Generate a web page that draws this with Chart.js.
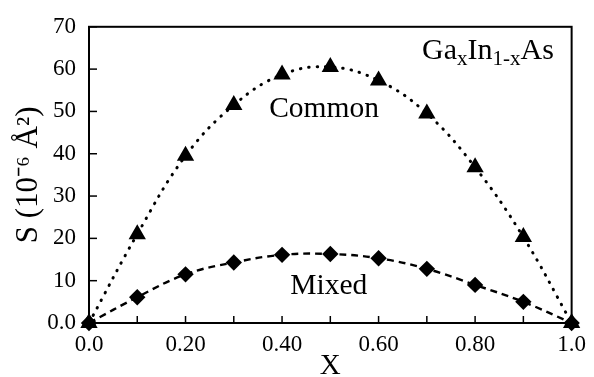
<!DOCTYPE html>
<html>
<head>
<meta charset="utf-8">
<script src="https://cdn.jsdelivr.net/npm/chart.js@4"></script>
<style>
  html, body { margin: 0; padding: 0; background: #fff; }
  #wrap { width: 594px; height: 377px; }
</style>
</head>
<body>
<div id="wrap"><canvas id="chart" width="594" height="377"></canvas></div>
<script>
// composition x
const xs = [0, 0.1, 0.2, 0.3, 0.4, 0.5, 0.6, 0.7, 0.8, 0.9, 1.0];
// S values (10^-6 A^2)
const common = [0, 21.0, 39.5, 51.5, 58.7, 60.5, 57.3, 49.5, 36.8, 20.3, 0];
const mixed = [0, 6.1, 11.5, 14.3, 16.1, 16.3, 15.3, 12.8, 9.0, 5.0, 0];

const xTickLabels = ['0.0', '', '0.20', '', '0.40', '', '0.60', '', '0.80', '', '1.0'];
const yTickLabels = ['0.0', '10', '20', '30', '40', '50', '60', '70'];

const serif = "'Liberation Serif', 'Times New Roman', serif";

function pts(ys) {
  return xs.map((x, i) => ({ x: x, y: ys[i] }));
}

// frame, inward tick marks and the text notes
const decor = {
  id: 'decor',
  afterDatasetsDraw(chart) {
    const ctx = chart.ctx;
    const a = chart.chartArea;
    const sx = chart.scales.x, sy = chart.scales.y;
    ctx.save();
    ctx.strokeStyle = '#000';
    ctx.lineWidth = 2;
    ctx.strokeRect(a.left, a.top, a.right - a.left, a.bottom - a.top);
    ctx.lineWidth = 1.5;
    sx.ticks.forEach(t => {
      const px = sx.getPixelForValue(t.value);
      ctx.beginPath();
      ctx.moveTo(px, a.bottom);
      ctx.lineTo(px, a.bottom - 7);
      ctx.stroke();
    });
    sy.ticks.forEach(t => {
      const py = sy.getPixelForValue(t.value);
      ctx.beginPath();
      ctx.moveTo(a.left, py);
      ctx.lineTo(a.left + 8, py);
      ctx.stroke();
    });

    ctx.fillStyle = '#000';
    ctx.textBaseline = 'alphabetic';
    ctx.textAlign = 'center';
    ctx.font = '29.5px ' + serif;
    ctx.fillText('Common', sx.getPixelForValue(0.487), sy.getPixelForValue(48.7));
    ctx.fillText('Mixed', sx.getPixelForValue(0.497), sy.getPixelForValue(6.9));

    // Ga_x In_1-x As
    ctx.textAlign = 'left';
    let px = sx.getPixelForValue(0.69);
    const base = sy.getPixelForValue(62.4);
    const parts = [['Ga', 0], ['x', 1], ['In', 0], ['1-x', 1], ['As', 0]];
    parts.forEach(p => {
      ctx.font = (p[1] ? '21px ' : '30px ') + serif;
      const dy = p[1] ? 6 : 0;
      ctx.fillText(p[0], px, base + dy);
      px += ctx.measureText(p[0]).width;
    });
    ctx.restore();
  }
};

const ctx = document.getElementById('chart').getContext('2d');
new Chart(ctx, {
  type: 'scatter',
  data: {
    datasets: [{
      label: 'Common',
      data: pts(common),
      showLine: true,
      tension: 0.4,
      borderColor: '#000',
      borderWidth: 3,
      borderDash: [0.5, 8],
      borderCapStyle: 'round',
      pointStyle: 'triangle',
      pointRadius: 7,
      pointBackgroundColor: '#000',
      pointBorderColor: '#000',
      clip: false
    }, {
      label: 'Mixed',
      data: pts(mixed),
      showLine: true,
      tension: 0.4,
      borderColor: '#000',
      borderWidth: 2.4,
      borderDash: [7, 5],
      pointStyle: 'rectRot',
      pointRadius: 6.5,
      pointBackgroundColor: '#000',
      pointBorderColor: '#000',
      clip: false
    }]
  },
  options: {
    responsive: false,
    animation: false,
    layout: { padding: { top: 20, right: 16, left: 0, bottom: 0 } },
    plugins: {
      legend: { display: false },
      tooltip: { enabled: false }
    },
    scales: {
      x: {
        type: 'linear',
        min: 0,
        max: 1,
        afterFit: s => { s.height = 54; },
        grid: { display: false, drawTicks: false },
        border: { display: false },
        ticks: {
          stepSize: 0.1,
          padding: 8,
          color: '#000',
          font: { family: serif, size: 23 },
          maxRotation: 0,
          autoSkip: false,
          callback: (v, i) => xTickLabels[i]
        },
        title: {
          display: true,
          text: 'X',
          color: '#000',
          font: { family: serif, size: 29, lineHeight: 1 },
          padding: { top: 0, bottom: -4 }
        }
      },
      y: {
        type: 'linear',
        min: 0,
        max: 70,
        afterFit: s => { s.width = 89; },
        grid: { display: false, drawTicks: false },
        border: { display: false },
        ticks: {
          stepSize: 10,
          padding: 13,
          color: '#000',
          font: { family: serif, size: 23 },
          callback: (v, i) => yTickLabels[i]
        },
        title: {
          display: true,
          text: 'S (10\u207B\u2076 \u00C5\u00B2)',
          color: '#000',
          font: { family: serif, size: 31, lineHeight: 1 },
          padding: { top: 13, bottom: 0 }
        }
      }
    }
  },
  plugins: [decor]
});
</script>
</body>
</html>
